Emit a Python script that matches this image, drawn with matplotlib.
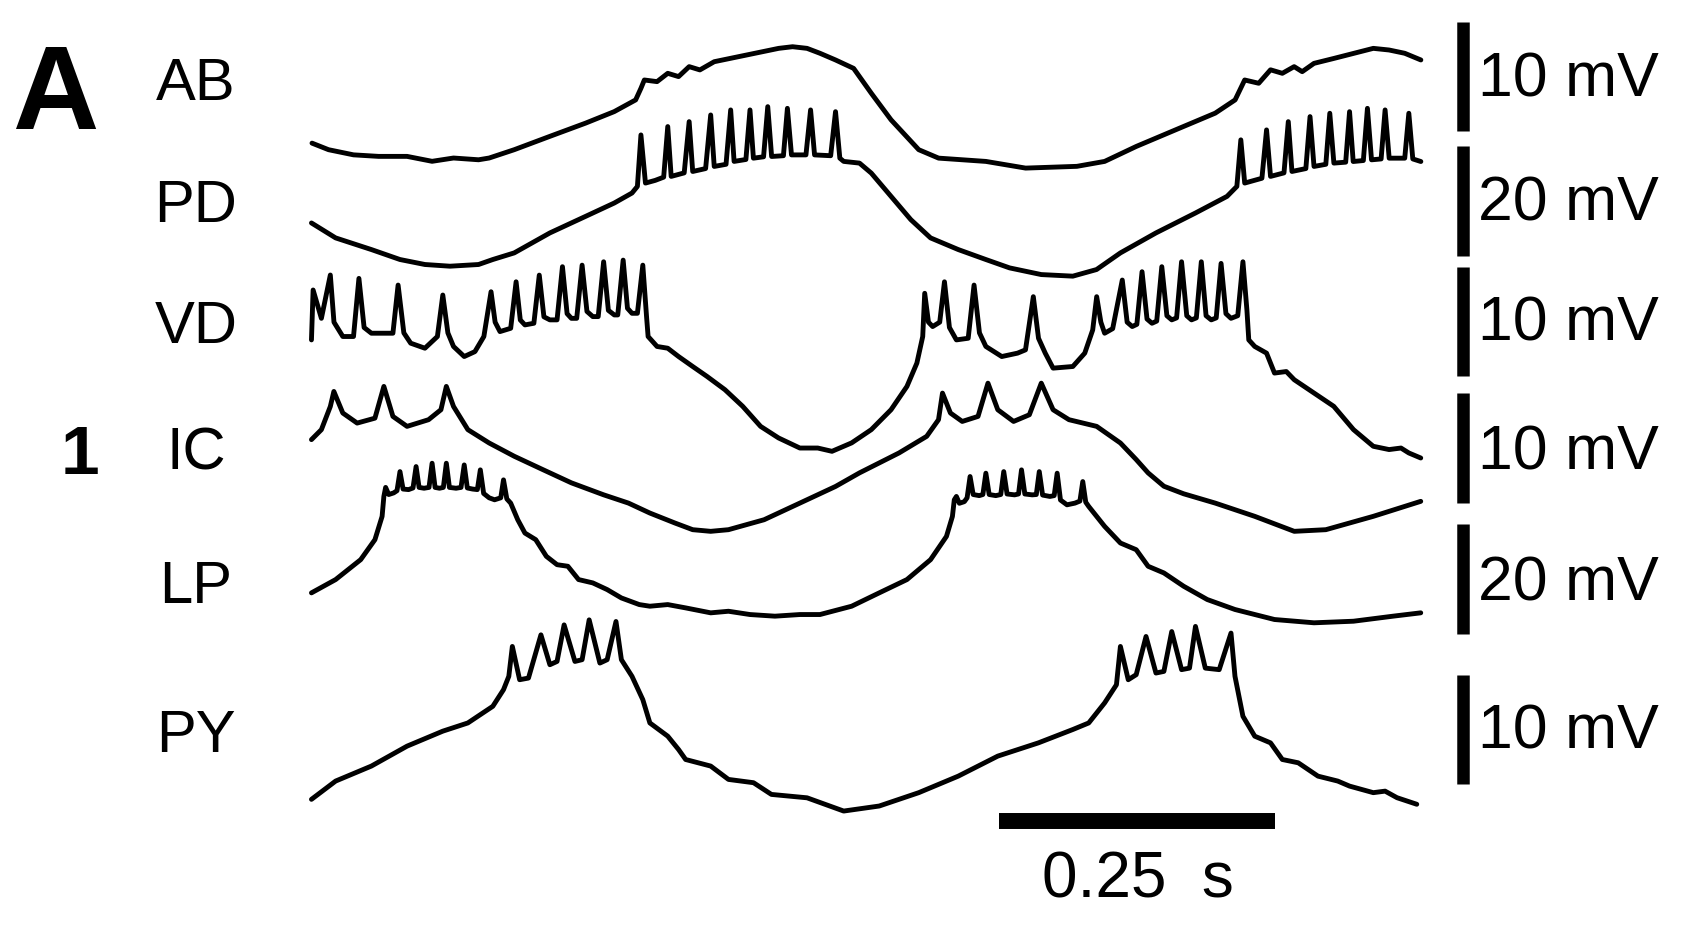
import matplotlib
matplotlib.use('Agg')
from matplotlib import pyplot as plt

plt.rcParams['font.family'] = ['Liberation Sans', 'DejaVu Sans']

# traces: (time in ms, potential in mV above the trace minimum)
ab_trace = [(0.5, 2.32), (15.5, 1.72), (38.1, 1.25), (60.8, 1.11), (86.6, 1.11), (109.3, 0.66),
            (128.7, 0.96), (151.4, 0.80), (161.0, 0.96), (183.7, 1.72), (216.0, 2.94), (248.4, 4.15),
            (274.3, 5.20), (293.7, 6.27), (298.5, 7.33), (301.6, 8.09), (313.1, 7.94), (322.8, 8.70),
            (332.6, 8.40), (342.2, 9.31), (351.9, 9.01), (364.9, 9.76), (394.1, 10.37), (423.3, 10.98),
            (435.9, 11.13), (449.0, 10.98), (460.7, 10.53), (474.8, 9.92), (491.2, 9.15), (507.2, 6.88),
            (525.1, 4.45), (550.2, 1.72), (568.2, 0.95), (611.0, 0.65), (647.0, 0.04), (693.5, 0.20),
            (718.6, 0.65), (747.3, 2.02), (783.0, 3.54), (818.8, 5.06), (836.8, 6.27), (845.5, 8.09),
            (858.2, 7.79), (868.9, 9.02), (879.6, 8.70), (890.3, 9.31), (897.6, 8.85), (908.3, 9.61),
            (926.3, 10.06), (962.0, 10.98), (976.3, 10.83), (990.5, 10.53), (1005.1, 9.92)]

pd_trace = [(0.0, 9.86), (21.9, 7.13), (54.3, 5.00), (80.2, 3.18), (102.8, 2.27), (125.5, 1.96),
            (151.4, 2.27), (164.3, 3.18), (183.7, 4.39), (216.0, 8.04), (248.4, 11.07), (274.3, 13.50),
            (290.4, 15.33), (295.3, 16.54), (298.5, 25.95), (302.6, 17.15), (311.4, 17.64), (319.1, 18.23),
            (322.8, 27.48), (325.9, 18.37), (337.7, 19.01), (342.2, 28.38), (345.4, 19.27), (357.1, 19.80),
            (361.7, 29.60), (364.9, 20.19), (375.6, 20.58), (379.8, 30.52), (382.9, 21.11), (393.6, 21.46),
            (397.3, 30.52), (400.4, 21.70), (409.6, 21.95), (413.4, 31.12), (416.9, 22.01), (427.6, 22.15),
            (431.2, 30.81), (434.9, 22.30), (448.0, 22.30), (452.2, 30.52), (455.8, 22.30), (470.4, 22.15),
            (474.8, 30.20), (478.7, 21.70), (482.2, 21.11), (496.5, 20.80), (507.2, 18.97), (525.1, 14.72),
            (543.0, 10.47), (560.9, 7.13), (586.0, 5.00), (611.0, 3.18), (632.5, 1.65), (661.2, 0.43),
            (689.8, 0.14), (711.3, 1.35), (732.9, 4.39), (765.1, 8.04), (800.9, 11.68), (829.5, 14.72),
            (838.4, 16.54), (842.0, 25.05), (845.5, 17.15), (861.1, 18.03), (865.3, 26.87), (868.9, 18.37),
            (881.1, 19.01), (885.0, 28.38), (888.3, 19.27), (900.9, 19.80), (904.7, 29.30), (908.3, 20.19),
            (919.0, 20.58), (922.6, 29.91), (926.3, 20.80), (937.0, 20.97), (940.5, 30.20), (943.8, 21.09),
            (953.0, 21.27), (956.7, 30.81), (960.4, 21.40), (969.1, 21.56), (972.7, 30.52), (976.4, 21.70),
            (990.5, 21.70), (994.2, 29.91), (997.8, 21.56), (1005.1, 21.09)]

vd_trace = [(0.0, 11.12), (1.5, 15.68), (9.0, 13.09), (17.1, 17.05), (20.4, 12.74), (28.4, 11.43),
            (38.1, 11.43), (43.0, 16.74), (47.7, 12.25), (54.3, 11.73), (73.8, 11.73), (78.5, 16.13),
            (83.7, 11.76), (89.9, 10.82), (102.8, 10.36), (114.1, 11.43), (119.0, 15.22), (123.6, 11.76),
            (128.7, 10.52), (138.4, 9.60), (148.1, 10.05), (156.2, 11.43), (162.7, 15.52), (166.4, 12.74),
            (170.8, 11.88), (180.5, 12.18), (185.4, 16.43), (189.2, 12.94), (193.4, 12.49), (201.5, 12.64),
            (206.4, 17.04), (210.6, 13.23), (216.0, 12.95), (222.5, 12.95), (227.4, 17.81), (231.6, 13.52),
            (235.5, 13.09), (240.3, 13.09), (245.2, 17.95), (249.6, 13.72), (254.9, 13.25), (259.8, 13.25),
            (264.7, 18.26), (269.0, 13.82), (274.4, 13.40), (277.5, 13.40), (282.4, 18.41), (286.3, 14.01),
            (290.4, 13.55), (295.3, 13.55), (300.2, 17.95), (303.6, 13.23), (305.0, 11.43), (313.1, 10.52),
            (322.8, 10.36), (332.6, 9.60), (345.4, 8.69), (358.4, 7.78), (374.6, 6.57), (390.7, 5.05),
            (406.9, 3.22), (423.2, 2.16), (442.5, 1.24), (458.7, 1.24), (471.6, 0.94), (489.4, 1.71),
            (507.2, 2.92), (525.1, 4.74), (539.5, 6.87), (548.5, 9.00), (553.8, 11.43), (555.6, 15.38),
            (559.0, 12.74), (562.8, 12.34), (569.2, 12.74), (573.5, 16.43), (578.0, 12.25), (584.3, 11.12),
            (595.0, 11.27), (600.3, 16.13), (605.2, 11.76), (611.0, 10.52), (625.4, 9.60), (639.7, 9.91),
            (646.9, 10.21), (654.0, 15.07), (658.7, 11.27), (664.8, 9.91), (671.9, 8.54), (689.8, 8.69),
            (700.6, 9.91), (707.8, 12.03), (711.4, 15.07), (715.2, 12.74), (718.6, 11.73), (725.9, 12.15),
            (734.6, 16.59), (739.0, 12.74), (743.6, 12.34), (747.8, 12.54), (752.5, 17.35), (757.0, 13.03),
            (761.5, 12.64), (765.8, 12.84), (770.4, 17.81), (775.0, 13.33), (779.4, 12.95), (783.8, 13.13),
            (788.3, 18.26), (793.0, 13.33), (797.3, 12.95), (801.7, 13.13), (806.2, 18.26), (810.5, 13.33),
            (815.2, 12.95), (819.7, 13.13), (824.1, 18.11), (828.5, 13.52), (833.1, 13.09), (839.2, 13.33),
            (843.9, 18.26), (847.5, 13.86), (849.2, 11.12), (854.6, 10.52), (865.3, 9.91), (872.5, 8.09),
            (883.2, 8.23), (890.4, 7.48), (908.3, 6.26), (926.2, 5.05), (944.1, 2.92), (962.0, 1.40),
            (976.3, 1.10), (987.1, 1.24), (994.2, 0.79), (1005.0, 0.33)]

ic_trace = [(0.0, 8.58), (9.0, 9.49), (17.1, 11.61), (20.3, 12.98), (28.4, 11.01), (41.4, 10.09),
            (57.5, 10.54), (65.6, 13.44), (73.8, 10.70), (86.6, 9.79), (106.1, 10.40), (117.3, 11.31),
            (122.2, 13.44), (128.7, 11.61), (141.7, 9.49), (161.0, 8.27), (183.7, 7.06), (209.6, 5.84),
            (235.5, 4.63), (264.6, 3.54), (287.2, 2.78), (306.6, 1.87), (329.3, 0.96), (345.4, 0.35),
            (361.7, 0.20), (377.8, 0.35), (410.1, 1.26), (442.5, 2.78), (474.8, 4.30), (496.5, 5.54),
            (532.3, 7.36), (557.4, 8.88), (568.1, 10.40), (571.7, 12.83), (578.9, 11.01), (589.6, 10.24),
            (603.9, 10.70), (612.9, 13.74), (621.8, 11.31), (636.1, 10.24), (650.4, 10.85), (661.2, 13.74),
            (671.9, 11.31), (686.3, 10.40), (711.4, 9.79), (732.9, 8.27), (747.2, 6.76), (758.0, 5.54),
            (772.3, 4.32), (790.2, 3.63), (818.8, 2.78), (854.6, 1.57), (890.4, 0.20), (919.0, 0.35),
            (962.0, 1.57), (1005.0, 2.94)]

lp_trace = [(0.0, 5.63), (21.9, 8.06), (44.6, 11.70), (57.5, 15.35), (64.0, 19.60), (65.6, 23.25),
            (67.2, 24.90), (70.0, 23.60), (74.5, 23.90), (77.5, 24.30), (80.2, 27.79), (83.0, 24.60),
            (88.0, 24.50), (92.0, 24.80), (94.8, 28.71), (97.5, 24.90), (102.0, 24.75), (106.5, 24.90),
            (109.3, 29.32), (112.0, 24.90), (116.0, 24.75), (119.5, 24.90), (122.2, 29.32), (125.0, 24.90),
            (131.0, 24.75), (135.5, 24.90), (138.4, 29.01), (141.2, 24.80), (146.0, 24.60), (150.3, 24.50),
            (153.0, 28.11), (156.0, 23.80), (161.0, 23.00), (165.9, 22.64), (171.5, 23.00), (174.0, 26.28),
            (177.0, 22.80), (180.5, 22.03), (186.9, 18.99), (193.4, 16.56), (203.2, 15.35), (212.8, 12.31),
            (222.5, 10.78), (232.3, 10.49), (242.0, 8.06), (254.9, 7.45), (267.9, 6.23), (280.8, 4.70),
            (297.0, 3.49), (306.6, 3.19), (322.8, 3.49), (339.1, 2.88), (361.7, 1.98), (377.8, 2.27),
            (397.3, 1.67), (419.9, 1.37), (442.5, 1.67), (460.7, 1.67), (489.4, 3.19), (514.4, 5.63),
            (539.5, 8.06), (560.9, 11.70), (575.3, 15.95), (580.7, 19.60), (582.4, 22.64), (584.3, 23.25),
            (587.0, 22.00), (591.5, 22.30), (594.0, 23.00), (596.7, 26.89), (599.5, 23.60), (605.0, 23.40),
            (608.3, 23.60), (611.0, 27.50), (614.0, 23.60), (620.0, 23.40), (624.5, 23.60), (627.2, 27.79),
            (630.2, 23.70), (637.0, 23.54), (640.6, 23.70), (643.3, 28.11), (646.3, 23.70), (653.0, 23.54),
            (656.7, 23.60), (659.4, 27.79), (662.4, 23.50), (669.0, 23.25), (672.9, 23.40), (675.6, 27.50),
            (678.6, 22.60), (684.5, 21.72), (691.7, 22.03), (696.2, 22.40), (698.8, 25.97), (701.5, 22.20),
            (704.2, 21.42), (718.6, 17.78), (732.9, 14.74), (747.2, 13.52), (758.0, 10.49), (772.3, 9.27),
            (790.2, 6.84), (811.6, 4.41), (836.7, 2.59), (872.5, 0.76), (908.3, 0.16), (944.1, 0.45),
            (979.9, 1.37), (1005.0, 1.98)]

py_trace = [(0.0, 1.11), (21.9, 2.78), (54.3, 4.15), (86.6, 5.97), (119.0, 7.34), (141.7, 8.09),
            (164.3, 9.61), (174.0, 11.13), (178.8, 12.35), (182.0, 15.08), (188.6, 12.04), (196.6, 12.19),
            (207.9, 16.14), (216.0, 13.41), (222.5, 13.71), (228.9, 17.05), (238.7, 13.71), (245.2, 13.87),
            (251.6, 17.51), (261.3, 13.56), (267.9, 13.87), (275.9, 17.36), (280.8, 13.87), (290.4, 12.35),
            (300.2, 10.22), (306.6, 8.09), (322.8, 6.88), (332.6, 5.66), (339.0, 4.75), (361.7, 4.15),
            (377.8, 2.93), (400.5, 2.63), (416.7, 1.56), (449.0, 1.25), (482.2, 0.04), (514.4, 0.50),
            (550.2, 1.72), (586.0, 3.23), (621.8, 5.06), (658.6, 6.27), (689.8, 7.49), (704.2, 8.09),
            (718.6, 9.92), (729.3, 11.58), (732.9, 15.08), (740.0, 12.04), (747.2, 12.50), (756.1, 15.99),
            (765.1, 12.65), (772.3, 12.80), (779.4, 16.44), (788.3, 12.96), (795.5, 13.10), (800.9, 16.91),
            (809.8, 13.10), (822.4, 12.96), (833.1, 16.30), (836.7, 12.35), (843.9, 8.70), (854.6, 6.88),
            (868.9, 6.27), (879.6, 4.75), (894.0, 4.45), (911.9, 3.23), (929.8, 2.78), (940.5, 2.32),
            (962.0, 1.72), (972.7, 1.86), (983.5, 1.26), (1001.4, 0.66)]

cell_names = ['AB', 'PD', 'VD', 'IC', 'LP', 'PY']
traces = [ab_trace, pd_trace, vd_trace, ic_trace, lp_trace, py_trace]
bar_mv = [10, 20, 10, 10, 20, 10]            # vertical scale bar size per trace
bar_base = [3.4, 3.9, 7.8, 2.8, -1.8, 2.5]   # mV where each scale bar starts
time_bar = (623, 873)                        # 0.25 s bar, ms

# layout (figure fractions)
zero_y = [0.8226, 0.7085, 0.5141, 0.4384, 0.3435, 0.1458]   # height of 0 mV of each trace
label_y = [0.8947, 0.7663, 0.6389, 0.5053, 0.3653, 0.2084]
mv_text_y = [0.8979, 0.7674, 0.6411, 0.5053, 0.3684, 0.2116]
bar_t = 1043

fig = plt.figure(figsize=(16.84, 9.50), dpi=100)
fig.patch.set_facecolor('white')

for i, tr in enumerate(traces):
    t = [p[0] for p in tr]
    v = [p[1] for p in tr]
    span = bar_mv[i] * 8.68      # mV covered by the figure height
    ax = fig.add_axes([0.18495, 0.0, 0.662, 1.0])
    ax.set_xlim(0, 1010)
    ax.set_ylim(-zero_y[i] * span, (1 - zero_y[i]) * span)
    ax.axis('off')
    ax.plot(t, v, color='black', lw=3.5, solid_joinstyle='round',
            solid_capstyle='round', clip_on=False)
    ax.plot([bar_t, bar_t], [bar_base[i], bar_base[i] + bar_mv[i]], color='black',
            lw=9, solid_capstyle='butt', clip_on=False)
    fig.text(196 / 1684, label_y[i], cell_names[i], fontsize=43, ha='center', va='baseline')
    fig.text(1478 / 1684, mv_text_y[i], f'{bar_mv[i]} mV', fontsize=45, ha='left', va='baseline')
    if i == len(traces) - 1:
        ax.plot(list(time_bar), [-0.88, -0.88], color='black', lw=11.5,
                solid_capstyle='butt', clip_on=False)
        fig.text(1138 / 1684, 1 - 897 / 950, '0.25  s', fontsize=46, ha='center', va='baseline')

fig.text(12 / 1684, 1 - 129 / 950, 'A', fontsize=86, fontweight='bold', ha='left', va='baseline')
fig.text(80 / 1684, 1 - 474 / 950, '1', fontsize=50, fontweight='bold', ha='center', va='baseline')

fig.savefig('out.png', dpi=100, facecolor='white')
